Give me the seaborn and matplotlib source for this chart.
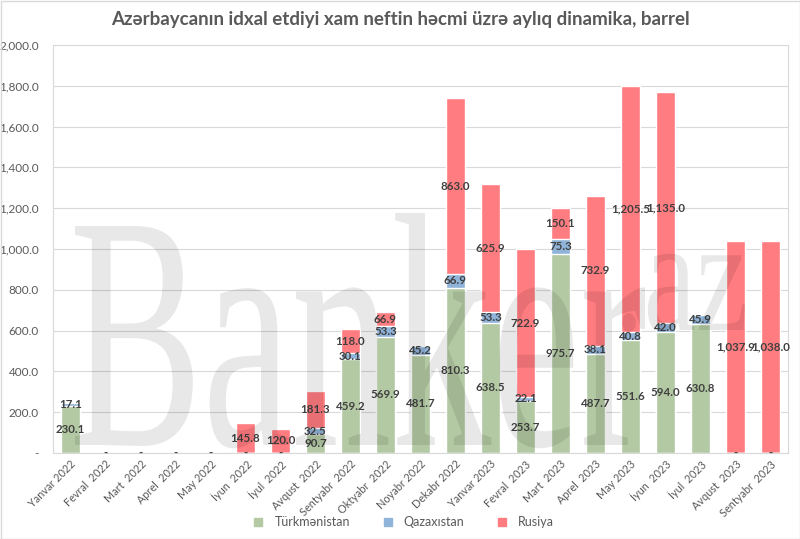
import numpy as np
import pandas as pd
import seaborn as sns
import matplotlib
matplotlib.use("Agg")
import matplotlib.pyplot as plt
from matplotlib.textpath import TextPath
from matplotlib.patches import PathPatch, Rectangle
from matplotlib.font_manager import FontProperties
from matplotlib.transforms import Affine2D, IdentityTransform
from matplotlib.lines import Line2D

months = ["Yanvar 2022", "Fevral  2022", "Mart  2022", "Aprel  2022", "May 2022",
          "İyun  2022", "İyul  2022", "Avqust  2022", "Sentyabr  2022", "Oktyabr  2022",
          "Noyabr 2022", "Dekabr 2022", "Yanvar 2023", "Fevral  2023", "Mart  2023",
          "Aprel  2023", "May 2023", "İyun  2023", "İyul  2023", "Avqust  2023",
          "Sentyabr  2023"]
turkmenistan = [230.1, 0, 0, 0, 0, 0, 0, 90.7, 459.2, 569.9, 481.7, 810.3, 638.5,
                253.7, 975.7, 487.7, 551.6, 594.0, 630.8, 0, 0]
qazaxistan = [17.1, 0, 0, 0, 0, 0, 0, 32.5, 30.1, 53.3, 45.2, 66.9, 53.3,
              22.1, 75.3, 38.1, 40.8, 42.0, 45.9, 0, 0]
rusiya = [0, 0, 0, 0, 0, 145.8, 120.0, 181.3, 118.0, 66.9, 0, 863.0, 625.9,
          722.9, 150.1, 732.9, 1205.5, 1135.0, 0, 1037.9, 1038.0]
series_names = ["Türkmənistan", "Qazaxıstan", "Rusiya"]
colors = ["#b3c9a3", "#8fb3d9", "#ff7c80"]
yticks = [0, 200, 400, 600, 800, 1000, 1200, 1400, 1600, 1800, 2000]

sns.set_theme(style="white")
FONT = ["Lato", "Noto Sans", "DejaVu Sans"]
plt.rcParams["font.family"] = FONT

df = pd.DataFrame({"month": months, "t": turkmenistan, "q": qazaxistan, "r": rusiya})
df["tq"] = df["t"] + df["q"]
df["tqr"] = df["tq"] + df["r"]

W, H = 800, 539
fig = plt.figure(figsize=(W / 100, H / 100), dpi=100)
ax = fig.add_axes([53 / W, 1 - 453 / H, (788 - 53) / W, (453 - 45) / H])

bw = 0.54
sns.barplot(data=df, x="month", y="tqr", order=months, color=colors[2], width=bw,
            saturation=1, ax=ax, zorder=2)
sns.barplot(data=df, x="month", y="tq", order=months, color=colors[1], width=bw,
            saturation=1, ax=ax, zorder=2)
sns.barplot(data=df, x="month", y="t", order=months, color=colors[0], width=bw,
            saturation=1, ax=ax, zorder=2)

ax.set_ylim(0, 2000)
ax.set_xlim(-0.5, len(months) - 0.5)
ax.set_yticks(yticks)
ax.set_yticklabels(["-" if v == 0 else f"{v:,.1f}" for v in yticks],
                   fontsize=8.5, color="#595959")
ax.set_xticks(range(len(months)))
ax.set_xticklabels(months, rotation=45, ha="right", rotation_mode="anchor",
                   fontsize=7.8, color="#595959")
ax.tick_params(axis="both", length=0, pad=4)
ax.tick_params(axis="y", pad=10)
ax.set_xlabel("")
ax.set_ylabel("")
ax.grid(axis="y", color="#d9d9d9", linewidth=0.8, zorder=0)
ax.set_axisbelow(True)
for s in ax.spines.values():
    s.set_color("#d9d9d9")
    s.set_linewidth(0.8)

# Watermark
def stretched_text(txt, x_left, x_right, base_from_top, height, ref_char):
    fp = FontProperties(family=["Liberation Serif"])
    p = TextPath((0, 0), txt, size=100, prop=fp)
    ref = TextPath((0, 0), ref_char, size=100, prop=fp).get_extents()
    ext = p.get_extents()
    sx = (x_right - x_left) / ext.width
    sy = height / ref.height
    tr = Affine2D().scale(sx, sy).translate(x_left - ext.x0 * sx, H - base_from_top)
    patch = PathPatch(tr.transform_path(p), facecolor="black", edgecolor="none",
                      alpha=0.09, transform=IdentityTransform(), zorder=5)
    fig.add_artist(patch)

stretched_text("Banker", 75, 645, 445, 220, "B")
stretched_text(".az", 622, 745, 330, 78, "a")

# Data labels
lab_kw = dict(ha="center", va="center", fontsize=8.3, fontweight="bold",
              color="#404040", zorder=6)
for i in range(len(months)):
    t, q, r = turkmenistan[i], qazaxistan[i], rusiya[i]
    if t > 0:
        ax.text(i, t / 2, f"{t:,.1f}", **lab_kw)
    else:
        ax.text(i, 0, "-", **lab_kw, clip_on=False)
    if q > 0:
        ax.text(i, t + q / 2, f"{q:,.1f}", **lab_kw)
    if r > 0:
        ax.text(i, t + q + r / 2, f"{r:,.1f}", **lab_kw)

fig.text(0.5, 1 - 19 / H, "Azərbaycanın idxal etdiyi xam neftin həcmi üzrə aylıq dinamika, barrel",
         ha="center", va="center", fontsize=13.5, fontweight="bold", color="#595959")

handles = [Line2D([], [], marker="s", linestyle="none", markersize=6,
                  markerfacecolor=c, markeredgecolor=c) for c in colors]
fig.legend(handles, series_names, loc="center", bbox_to_anchor=(0.5, 1 - 522 / H),
           ncol=3, frameon=False, fontsize=9, labelcolor="#595959",
           handletextpad=0.3, columnspacing=2.0)

fig.add_artist(Rectangle((0.5 / W, 0.5 / H), 1 - 1 / W, 1 - 1 / H,
                         transform=fig.transFigure, fill=False,
                         edgecolor="#d9d9d9", linewidth=1))

fig.savefig("out.png", dpi=100)
